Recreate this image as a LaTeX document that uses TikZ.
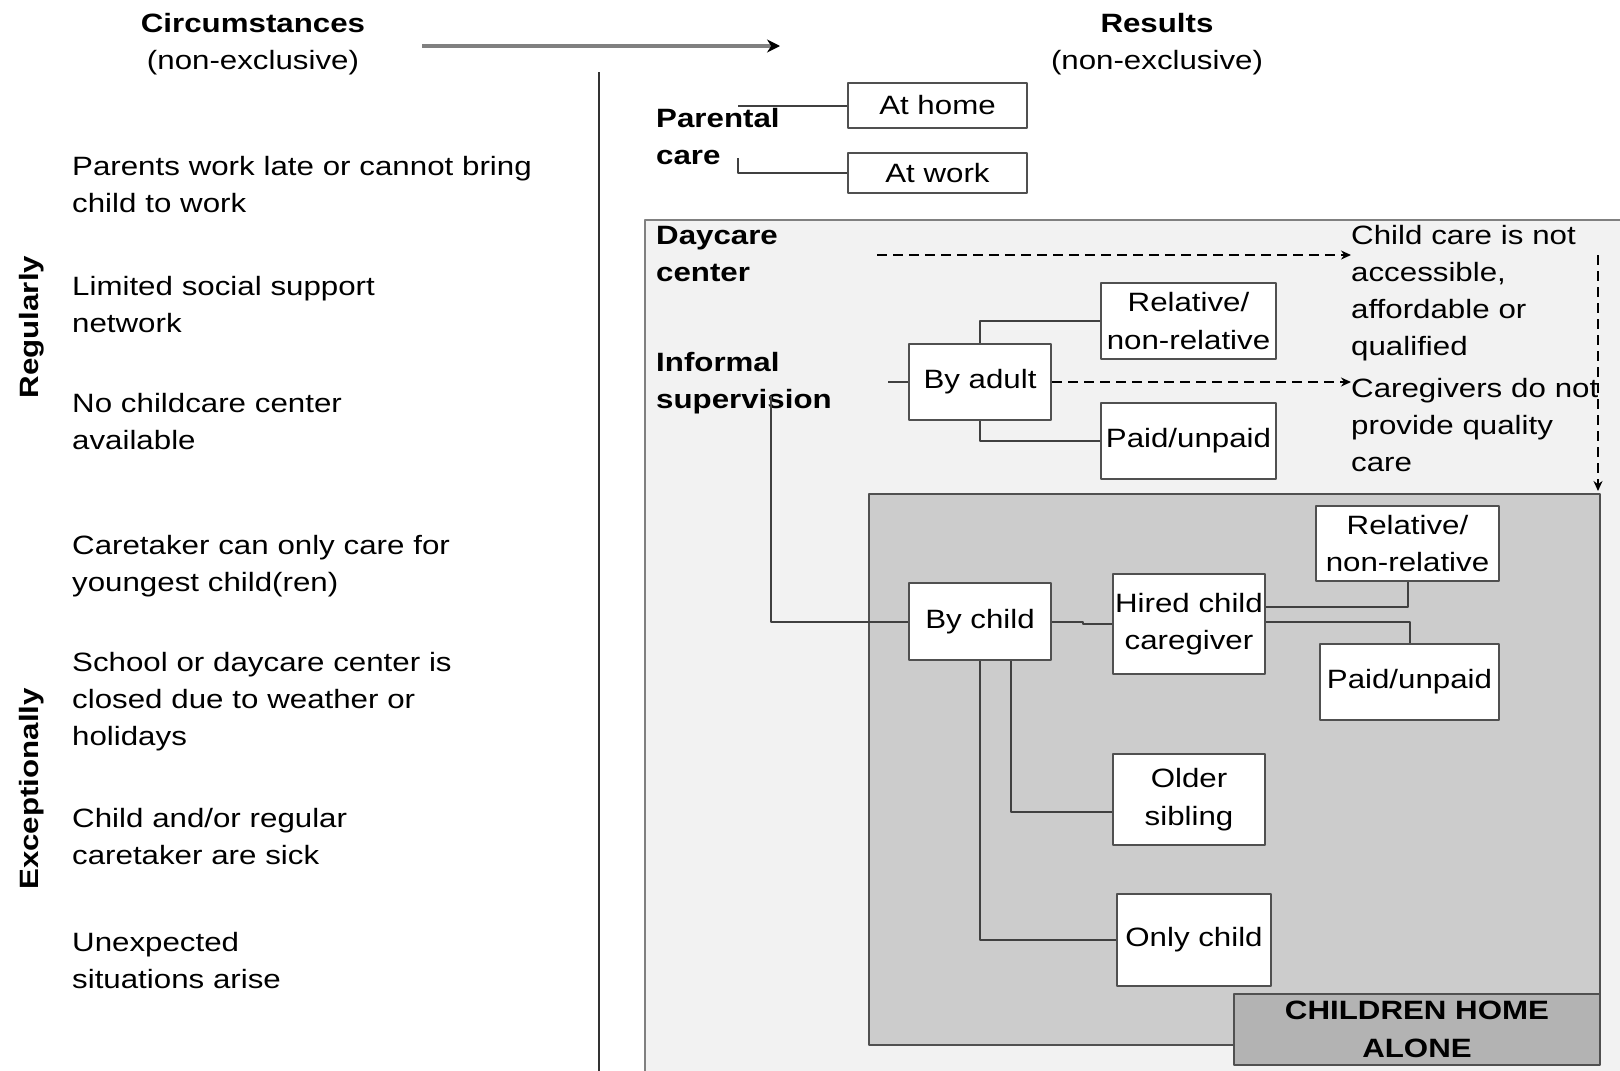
\documentclass[tikz,border=0pt]{standalone}
\usepackage{fontspec}
\setmainfont[FakeStretch=1.18]{Liberation Sans}
\usetikzlibrary{arrows.meta}
\definecolor{boxline}{HTML}{505050}
\definecolor{outerfill}{HTML}{F2F2F2}
\definecolor{innerfill}{HTML}{CCCCCC}
\definecolor{alonefill}{HTML}{B3B3B3}
\newcommand{\diagfont}{\fontsize{26.5}{37.3}\selectfont}
\begin{document}
\begin{tikzpicture}[x=1pt,y=-1pt,line join=round,font=\diagfont,
	txt/.style={anchor=base west,inner sep=0pt,text width=#1,align=left},
	txt/.default=500pt,
	lbl/.style={txt,font=\diagfont\bfseries},
	hd/.style={anchor=base,inner sep=0pt,text width=300pt,align=center},
	box/.style={draw=boxline,line width=2pt,fill=white,inner sep=0pt,align=center},
	link/.style={draw=black!75,line width=2pt},
	dsh/.style={line width=1.6pt,dash pattern=on 10pt off 6pt,-{Stealth[length=10pt,width=9pt]}}]
	\useasboundingbox (0,0) rectangle (1620,1071);
	\clip (0,0) rectangle (1620,1071);
	\fill[white] (0,0) rectangle (1620,1071);
	% headers
	\node[hd,font=\diagfont\bfseries] (circ) at (253,32) {Circumstances};
	\node[hd] (circsub) at (253,69) {(non-exclusive)};
	\node[hd,font=\diagfont\bfseries] (res) at (1157,32) {Results};
	\node[hd] (ressub) at (1157,69) {(non-exclusive)};
	\coordinate (arrS) at (422,46);
	\coordinate (arrE) at (780,46);
	\draw[gray,line width=3.5pt,-{Stealth[black,length=13pt,width=13pt]}] (arrS) -- (arrE);
	\draw[black!80,line width=2.2pt] (599,72) -- (599,1075);
	% circumstances
	\node[font=\diagfont\bfseries,rotate=90,anchor=base,inner sep=0pt] (reg) at (38,327) {Regularly};
	\node[font=\diagfont\bfseries,rotate=90,anchor=base,inner sep=0pt] (exc) at (38,789) {Exceptionally};
	\node[txt] (c1) at (72,175) {Parents work late or cannot bring\\child to work};
	\node[txt] (c2) at (72,295) {Limited social support\\network};
	\node[txt] (c3) at (72,412) {No childcare center\\available};
	\node[txt] (c4) at (72,554) {Caretaker can only care for\\youngest child(ren)};
	\node[txt] (c5) at (72,671) {School or daycare center is\\closed due to weather or\\holidays};
	\node[txt] (c6) at (72,827) {Child and/or regular\\caretaker are sick};
	\node[txt] (c7) at (72,951) {Unexpected\\situations arise};
	% parental care
	\node[lbl] (parental) at (656,127) {Parental\\care};
	\node[box,minimum width=179pt,minimum height=45pt] (home) at (937.5,105.5) {At home};
	\node[box,minimum width=179pt,minimum height=40pt] (work) at (937.5,173) {At work};
	\coordinate (pc1) at (738,105.5);
	\coordinate (pc2) at (738,158);
	\draw[link] (pc1) -- (home.west);
	\draw[link] (pc2) |- (work.west);
	% outer and inner areas
	\coordinate (outTL) at (645,220);
	\coordinate (outBR) at (1630,1085);
	\coordinate (inTL) at (869,494);
	\coordinate (inBR) at (1600,1045);
	\draw[gray,line width=1.8pt,fill=outerfill] (outTL) rectangle (outBR);
	\draw[boxline,line width=1.8pt,fill=innerfill] (inTL) rectangle (inBR);
	\node[lbl] (daycare) at (656,244) {Daycare\\center};
	\node[lbl] (informal) at (656,371) {Informal\\supervision};
	\node[txt=260pt] (notacc) at (1351,244) {Child care is not\\accessible,\\affordable or\\qualified};
	\node[txt=260pt] (noqual) at (1351,397) {Caregivers do not\\provide quality\\care};
	% by adult
	\node[box,minimum width=142pt,minimum height=76pt] (adult) at (980,382) {By adult};
	\node[box,minimum width=175pt,minimum height=76pt] (rel1) at (1188.5,321) {Relative/\\non-relative};
	\node[box,minimum width=175pt,minimum height=76pt] (paid1) at (1188.5,441) {Paid/unpaid};
	% by child
	\node[box,minimum width=142pt,minimum height=77pt] (bychild) at (980,621.5) {By child};
	\node[box,minimum width=152pt,minimum height=100pt] (hired) at (1189,624) {Hired child\\caregiver};
	\node[box,minimum width=183pt,minimum height=75pt] (rel2) at (1407.5,543.5) {Relative/\\non-relative};
	\node[box,minimum width=179pt,minimum height=76pt] (paid2) at (1409.5,682) {Paid/unpaid};
	\node[box,minimum width=152pt,minimum height=91pt] (older) at (1189,799.5) {Older\\sibling};
	\node[box,minimum width=154pt,minimum height=92pt] (only) at (1194,940) {Only child};
	\node[box,fill=alonefill,font=\diagfont\bfseries,minimum width=366pt,minimum height=71pt] (alone) at (1417,1029.5) {CHILDREN HOME\\ALONE};
	% connectors
	\coordinate (dc) at (877,255);
	\coordinate (vd) at (1598,255);
	\coordinate (isv) at (771,396);
	\draw[dsh] (dc) -- (dc -| notacc.west);
	\draw[dsh] (adult.east) -- (adult.east -| noqual.west);
	\draw[dsh,shorten >=3pt] (vd) -- (vd |- inTL);
	\draw[link] (adult.west) -- ++(-20,0);
	\draw[link] (adult.north) |- (rel1.west);
	\draw[link] (adult.south) |- (paid1.west);
	\draw[link] (isv) |- (bychild.west);
	\draw[link] (bychild.east) -- ++(31,0) |- (hired.west);
	\draw[link] ([yshift=17pt]hired.east) -| (rel2.south);
	\draw[link] ([yshift=2pt]hired.east) -| (paid2.north);
	\draw[link] ([xshift=31pt]bychild.south) |- ([yshift=-12pt]older.west);
	\draw[link] (bychild.south) |- (only.west);
\end{tikzpicture}
\end{document}
